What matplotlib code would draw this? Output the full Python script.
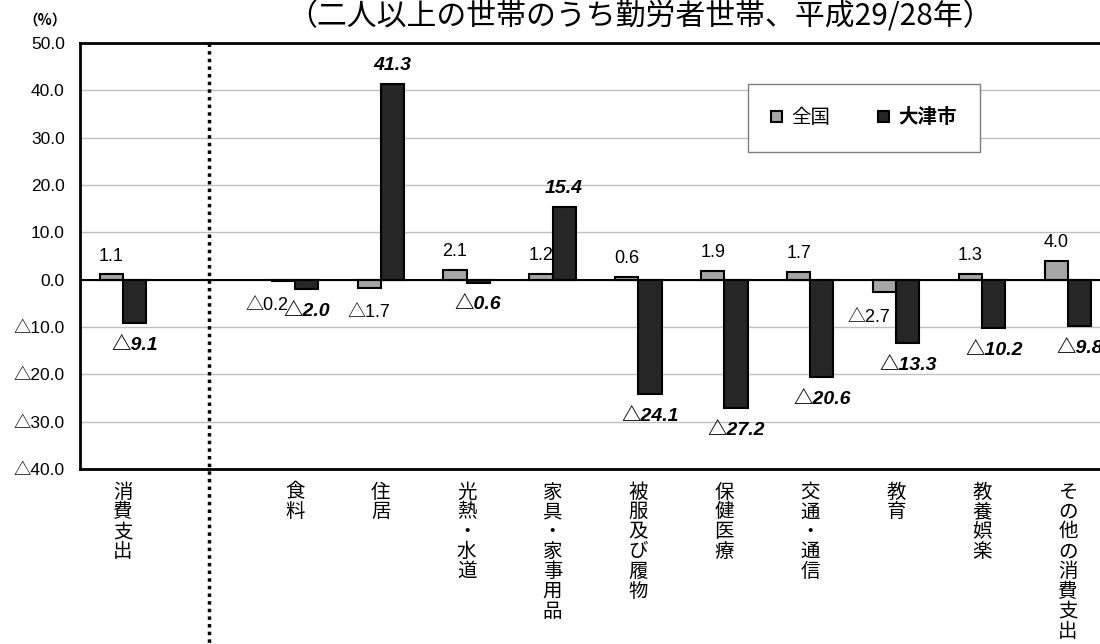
import matplotlib.pyplot as plt
import numpy as np

plt.rcParams['font.family'] = ['Noto Sans CJK JP', 'DejaVu Sans']

# data
categories = ['消費支出', '食料', '住居', '光熱・水道', '家具・家事用品', '被服及び履物',
              '保健医療', '交通・通信', '教育', '教養娯楽', 'その他の消費支出']
zenkoku = [1.1, -0.2, -1.7, 2.1, 1.2, 0.6, 1.9, 1.7, -2.7, 1.3, 4.0]
otsu = [-9.1, -2.0, 41.3, -0.6, 15.4, -24.1, -27.2, -20.6, -13.3, -10.2, -9.8]
series_names = ['全国', '大津市']
title = '（二人以上の世帯のうち勤労者世帯、平成29/28年）'

num_font = ['Liberation Sans', 'Noto Sans CJK JP']


def fmt(v):
    return ('△' if v < 0 else '') + f'{abs(v):.1f}'


W, H = 1100, 644
fig = plt.figure(figsize=(W / 100, H / 100), dpi=100)
ax = fig.add_axes([80 / W, 1 - 469 / H, (1111 - 80) / W, (469 - 43) / H])

# skip one slot after 消費支出 (dotted separator goes there)
idx = np.arange(len(categories))
x = idx + (idx > 0)
bw = 0.27

ax.bar(x - bw / 2, zenkoku, bw, color='#a6a6a6', edgecolor='black', lw=1.5,
       label=series_names[0], zorder=3)
ax.bar(x + bw / 2, otsu, bw, color='#262626', edgecolor='black', lw=1.5,
       label=series_names[1], zorder=3)

ax.set_ylim(-40, 50)
ax.set_xlim(-0.5, 11.5)
yt = np.arange(-40, 51, 10)
ax.set_yticks(yt, [fmt(v) for v in yt])
ax.tick_params(axis='y', length=0, labelsize=12.5, pad=11)
for t in ax.get_yticklabels():
    t.set_family(num_font)
ax.yaxis.grid(True, color='#bfbfbf', lw=1, zorder=0)
ax.axhline(0, color='black', lw=1.5, zorder=4)

ax.set_xticks(x, ['\n'.join(c) for c in categories])
ax.tick_params(axis='x', length=0, labelsize=14, pad=9)
for t in ax.get_xticklabels():
    t.set_verticalalignment('top')
    t.set_linespacing(0.93)

for s in ['left', 'top', 'bottom']:
    ax.spines[s].set_linewidth(2)
ax.spines['right'].set_visible(False)

# dotted separator
ax.plot([1, 1], [50, -80], color='black', ls=(0, (1, 1.2)), lw=2.5,
        clip_on=False, zorder=5)

# data labels
for xi, v, o in zip(x, zenkoku, otsu):
    if v < 0 and o < 0:
        # pushed left so it clears the neighbouring bar
        ax.annotate(fmt(v), (xi - bw / 2, v), xytext=(4, -12), textcoords='offset points',
                    ha='right', va='top', fontsize=13, family=num_font)
    else:
        dy = 7 if v >= 0 else -12
        ax.annotate(fmt(v), (xi - bw / 2, v), xytext=(0, dy), textcoords='offset points',
                    ha='center', va='bottom' if v >= 0 else 'top', fontsize=13,
                    family=num_font)
for xi, v in zip(x, otsu):
    dy = 7 if v >= 0 else -10
    ax.annotate(fmt(v), (xi + bw / 2, v), xytext=(0, dy), textcoords='offset points',
                ha='center', va='bottom' if v >= 0 else 'top', fontsize=14,
                fontweight='bold', fontstyle='italic', family=num_font)

leg = ax.legend(loc='upper left', bbox_to_anchor=((748 - 80) / 1031, (469 - 84) / 426),
                ncol=2, frameon=True, fancybox=False, edgecolor='#7f7f7f',
                handlelength=0.55, handleheight=0.55, columnspacing=2.5,
                borderpad=1.2, borderaxespad=0, fontsize=14, framealpha=1,
                handletextpad=0.45)
leg.get_frame().set_linewidth(1)
leg.get_texts()[1].set_fontweight('bold')

fig.text(45 / W, 1 - 20 / H, '（%）', ha='center', va='center', fontsize=10.5, fontweight='bold')
fig.text(640 / W, 1 - 17 / H, title, ha='center', va='center', fontsize=21.5)

fig.savefig('out.png', dpi=100)
